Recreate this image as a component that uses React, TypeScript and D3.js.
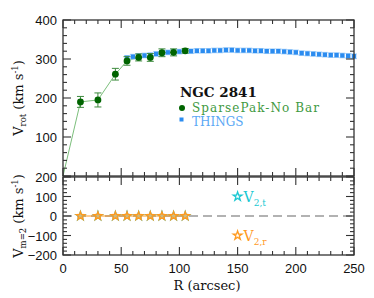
import * as React from 'react';
import { scaleLinear, line, symbol, symbolStar, range } from 'd3';

// SparsePak (no bar) rotation curve
const spR = [15, 30, 45, 55, 65, 75, 85, 95, 105];
const spV = [190, 195, 261, 295, 304, 304, 316, 317, 321];
const spErr = [14, 18, 15, 11, 9, 10, 10, 9, 6];

// THINGS rotation curve
const thR = range(55, 251, 5);
const thV = [303, 306, 308, 309, 310, 313, 315, 317, 318, 319, 320, 320, 321, 321, 321, 322, 322, 323, 323, 322,
  322, 322, 321, 321, 320, 320, 320, 319, 318, 317, 315, 314, 313, 312, 311, 310, 310, 309, 308, 307];
const thErr = 6;

// m=2 harmonic amplitudes
const m2R = [15, 30, 45, 55, 65, 75, 85, 95, 105];
const v2t = [0, 0, 0, 0, 0, 0, 0, 0, 0];
const v2r = [0, 0, 0, 0, 0, 0, 0, 0, 0];
const v2Err = [8, 8, 8, 8, 8, 8, 8, 8, 8];

const xTicks = [0, 50, 100, 150, 200, 250];
const topTicks = [100, 200, 300, 400];
const botTicks = [-200, -100, 0, 100, 200];

const GREEN = '#006400';
const GREEN_LINE = '#7cbf7c';
const BLUE = '#2b8cf0';
const ORANGE = '#ff9a1f';
const CYAN = '#19c8d2';
const AXIS = '#333';
const SERIF = 'DejaVu Serif, serif';
const SANS = 'Liberation Sans, Arial, sans-serif';

export default function App() {
  const W = 374, H = 298;
  const x = scaleLinear().domain([0, 250]).range([63, 354]);
  const yTop = scaleLinear().domain([0, 400]).range([176, 20]);
  const yBot = scaleLinear().domain([-200, 200]).range([255, 177]);

  const x0 = x(0), x1 = x(250);
  const star = symbol().type(symbolStar).size(24)();

  const spLine = line<number>().x((d, i) => x(i === 0 ? 0 : spR[i - 1])).y((d) => yTop(d));
  const spPath = spLine([0, ...spV]);
  const orangeLine = line<number>().x((d, i) => x(m2R[i])).y((d) => yBot(d))(v2r);

  const frame = (yS: any, ys: number[]) => {
    const [yb, yt] = yS.range();
    const [d0, d1] = yS.domain();
    const out: JSX.Element[] = [];
    range(0, 251, 10).forEach((v) => {
      const L = v % 50 === 0 ? 8 : 4;
      out.push(<line key={'xb' + v} x1={x(v)} x2={x(v)} y1={yb} y2={yb - L} />);
      out.push(<line key={'xt' + v} x1={x(v)} x2={x(v)} y1={yt} y2={yt + L} />);
    });
    range(d0, d1 + 1, 20).forEach((v) => {
      const L = v % 100 === 0 ? 8 : 4;
      out.push(<line key={'yl' + v} x1={x0} x2={x0 + L} y1={yS(v)} y2={yS(v)} />);
      out.push(<line key={'yr' + v} x1={x1} x2={x1 - L} y1={yS(v)} y2={yS(v)} />);
    });
    return (
      <g stroke={AXIS} strokeWidth={1.1}>
        <rect x={x0} y={yt} width={x1 - x0} height={yb - yt} fill="none" strokeWidth={1.3} />
        {out}
        {ys.map((v) => (
          <text key={'lab' + v} x={x0 - 6} y={yS(v) + 5} textAnchor="end" stroke="none" fill="#111"
            fontFamily={SANS} fontSize={13}>{v < 0 ? '\u2212' + Math.abs(v) : v}</text>
        ))}
      </g>
    );
  };

  return (
    <svg width={W} height={H} style={{ position: 'absolute', left: 0, top: 0, background: '#fff' }}>
      {/* top panel: rotation curves */}
      <path d={spPath || ''} fill="none" stroke={GREEN_LINE} strokeWidth={1} />
      {thR.map((r, i) => (
        <g key={'th' + r}>
          <line x1={x(r)} x2={x(r)} y1={yTop(thV[i] - thErr)} y2={yTop(thV[i] + thErr)} stroke="#a9d3fb" strokeWidth={1} />
          <line x1={x(r) - 3} x2={x(r) + 3} y1={yTop(thV[i] - thErr)} y2={yTop(thV[i] - thErr)} stroke="#a9d3fb" />
          <line x1={x(r) - 3} x2={x(r) + 3} y1={yTop(thV[i] + thErr)} y2={yTop(thV[i] + thErr)} stroke="#a9d3fb" />
        </g>
      ))}
      {thR.map((r, i) => (
        <rect key={'ths' + r} x={x(r) - 2.2} y={yTop(thV[i]) - 2.2} width={4.4} height={4.4} fill={BLUE} />
      ))}
      {spR.map((r, i) => (
        <g key={'sp' + r} stroke="#3d8a3d" strokeWidth={1}>
          <line x1={x(r)} x2={x(r)} y1={yTop(spV[i] - spErr[i])} y2={yTop(spV[i] + spErr[i])} />
          <line x1={x(r) - 3.5} x2={x(r) + 3.5} y1={yTop(spV[i] - spErr[i])} y2={yTop(spV[i] - spErr[i])} />
          <line x1={x(r) - 3.5} x2={x(r) + 3.5} y1={yTop(spV[i] + spErr[i])} y2={yTop(spV[i] + spErr[i])} />
          <circle cx={x(r)} cy={yTop(spV[i])} r={3.4} fill={GREEN} stroke="none" />
        </g>
      ))}
      {/* legend */}
      <text x={180} y={97} fontFamily={SERIF} fontWeight="bold" fontSize={13.5} fill="#111">NGC 2841</text>
      <circle cx={182} cy={108} r={3} fill={GREEN} />
      <text x={192} y={111.5} fontFamily={SERIF} fontSize={12} fill="#3f9a3f" textLength={127}>SparsePak-No Bar</text>
      <rect x={179.5} y={117.5} width={4} height={4} fill={BLUE} />
      <text x={192} y={125.5} fontFamily={SERIF} fontSize={12} fill="#5aa8f5">THINGS</text>

      {/* bottom panel: m=2 harmonics */}
      <line x1={x0} x2={x1} y1={yBot(0)} y2={yBot(0)} stroke="#666" strokeWidth={1.1} strokeDasharray="9,5" />
      <path d={orangeLine || ''} fill="none" stroke={ORANGE} strokeWidth={1.2} />
      {m2R.map((r, i) => (
        <g key={'m2' + r}>
          <path d={star} transform={`translate(${x(r)},${yBot(v2t[i])})`} fill="none" stroke={CYAN} strokeWidth={1.2} />
          <g stroke={ORANGE} strokeWidth={1.2}>
            <line x1={x(r)} x2={x(r)} y1={yBot(v2r[i] - v2Err[i])} y2={yBot(v2r[i] + v2Err[i])} />
            <line x1={x(r) - 3} x2={x(r) + 3} y1={yBot(v2r[i] - v2Err[i])} y2={yBot(v2r[i] - v2Err[i])} />
            <line x1={x(r) - 3} x2={x(r) + 3} y1={yBot(v2r[i] + v2Err[i])} y2={yBot(v2r[i] + v2Err[i])} />
          </g>
          <path d={star} transform={`translate(${x(r)},${yBot(v2r[i])})`} fill="#b8c9a8" fillOpacity={0.7} stroke={ORANGE} strokeWidth={1.2} />
        </g>
      ))}
      <path d={star} transform={`translate(${x(150)},${yBot(100)})`} fill="none" stroke={CYAN} strokeWidth={1.3} />
      <text x={x(150) + 6} y={yBot(100) + 5} fontFamily={SERIF} fontSize={14} fill={CYAN}>
        V<tspan fontSize={9} dy={4}>2,t</tspan>
      </text>
      <path d={star} transform={`translate(${x(150)},${yBot(-100)})`} fill="none" stroke={ORANGE} strokeWidth={1.3} />
      <text x={x(150) + 6} y={yBot(-100) + 5} fontFamily={SERIF} fontSize={14} fill={ORANGE}>
        V<tspan fontSize={9} dy={4}>2,r</tspan>
      </text>

      {frame(yTop, topTicks)}
      {frame(yBot, botTicks)}

      {/* x tick labels and titles */}
      {xTicks.map((v) => (
        <text key={'xl' + v} x={x(v)} y={273} textAnchor="middle" fontFamily={SANS} fontSize={13} fill="#111">{v}</text>
      ))}
      <text x={207} y={290} textAnchor="middle" fontFamily={SERIF} fontSize={13} fill="#111">R (arcsec)</text>
      <text transform={`translate(23,${yTop(200)}) rotate(-90)`} textAnchor="middle" fontFamily={SERIF} fontSize={13} fill="#111">
        V<tspan fontSize={8.5} dy={3}>rot</tspan><tspan dy={-3}> (km s</tspan><tspan fontSize={8.5} dy={-5}>-1</tspan><tspan dy={5}>)</tspan>
      </text>
      <text transform={`translate(23,${yBot(0)}) rotate(-90)`} textAnchor="middle" fontFamily={SERIF} fontSize={13} fill="#111">
        V<tspan fontSize={8.5} dy={3}>m=2</tspan><tspan dy={-3}> (km s</tspan><tspan fontSize={8.5} dy={-5}>-1</tspan><tspan dy={5}>)</tspan>
      </text>
    </svg>
  );
}
